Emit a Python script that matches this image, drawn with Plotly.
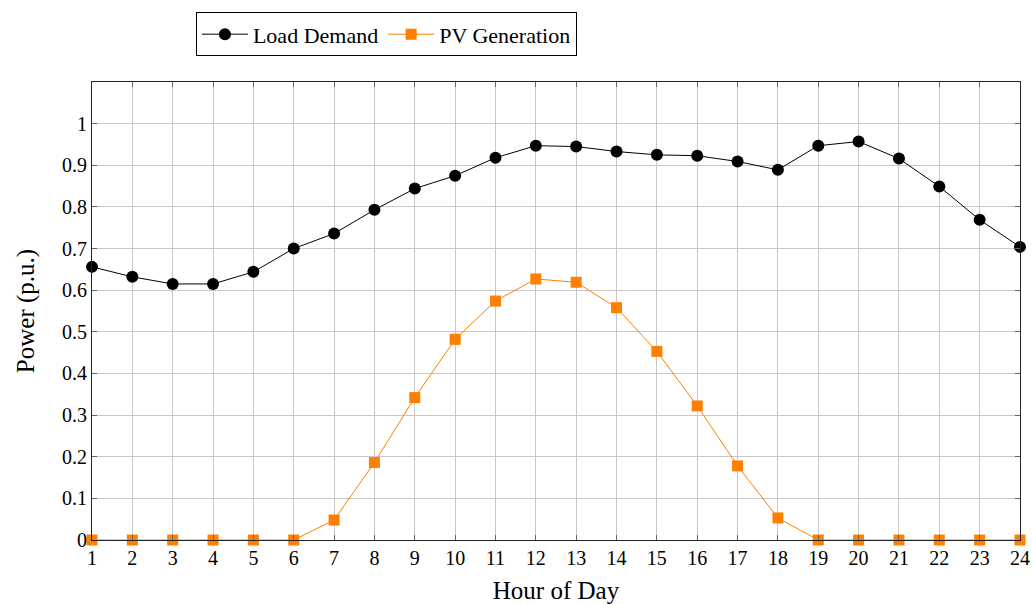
import plotly.graph_objects as go

hours = list(range(1, 25))
load_demand = [0.656, 0.632, 0.615, 0.615, 0.644, 0.700, 0.736, 0.793, 0.844, 0.875,
               0.918, 0.947, 0.945, 0.933, 0.925, 0.923, 0.909, 0.889, 0.947, 0.957,
               0.916, 0.849, 0.769, 0.704]
pv_generation = [0, 0, 0, 0, 0, 0, 0.048, 0.186, 0.342, 0.482,
                 0.574, 0.627, 0.619, 0.558, 0.453, 0.322, 0.178, 0.053, 0, 0,
                 0, 0, 0, 0]
y_ticks = [0, 0.1, 0.2, 0.3, 0.4, 0.5, 0.6, 0.7, 0.8, 0.9, 1]
y_tick_text = ["0", "0.1", "0.2", "0.3", "0.4", "0.5", "0.6", "0.7", "0.8", "0.9", "1"]

FONT = "Liberation Serif"
ORANGE = "#FF8000"

fig = go.Figure()
fig.add_trace(go.Scatter(
    x=hours, y=load_demand, name="Load Demand", mode="lines+markers",
    line=dict(color="black", width=1),
    marker=dict(symbol="circle", size=12, color="black"),
    cliponaxis=False,
))
fig.add_trace(go.Scatter(
    x=hours, y=pv_generation, name="PV Generation", mode="lines+markers",
    line=dict(color=ORANGE, width=1),
    marker=dict(symbol="square", size=11, color=ORANGE),
    cliponaxis=False,
))

axis_common = dict(
    showgrid=True, gridcolor="#c8c8c8", gridwidth=1,
    showline=True, linecolor="#222", linewidth=1.2, mirror="ticks",
    ticks="inside", ticklen=5, tickcolor="#666",
    tickfont=dict(family=FONT, size=20, color="black"),
    zeroline=False, automargin=False,
)

fig.update_layout(
    width=1033, height=604,
    margin=dict(l=92, r=13, t=82, b=64),
    paper_bgcolor="white", plot_bgcolor="white",
    font=dict(family=FONT, color="black"),
    xaxis=dict(
        range=[1, 24], tickvals=hours, ticktext=[str(h) for h in hours],
        title=dict(text="Hour of Day", font=dict(family=FONT, size=25), standoff=14),
        **axis_common,
    ),
    yaxis=dict(
        range=[0, 1.1], tickvals=y_ticks, ticktext=y_tick_text,
        title=dict(text="Power (p.u.)", font=dict(family=FONT, size=25), standoff=20),
        **axis_common,
    ),
    legend=dict(
        orientation="h", x=0.112, y=1.152, xanchor="left", yanchor="top",
        bordercolor="black", borderwidth=1, bgcolor="white",
        font=dict(family=FONT, size=22), itemwidth=46, tracegroupgap=0,
    ),
    showlegend=True,
)

fig.write_html("out.html")
